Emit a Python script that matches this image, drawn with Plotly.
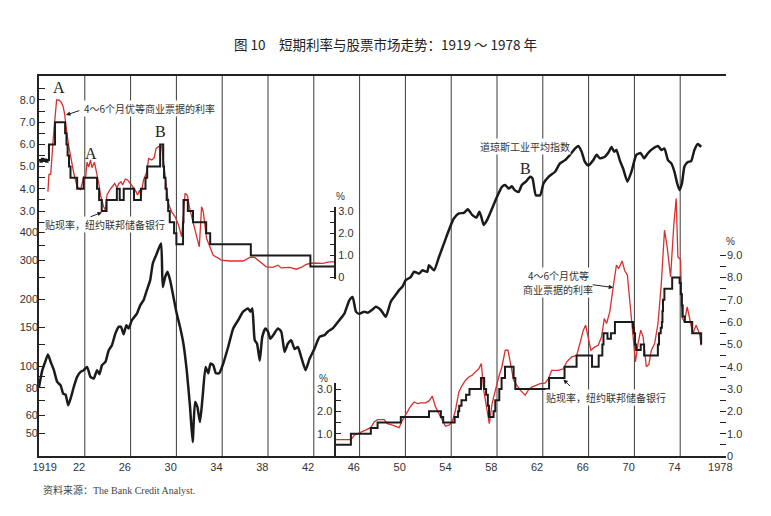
import plotly.graph_objects as go

# ---------------- data ----------------
year_label_pos = [1919.5, 1922.5, 1926.5, 1930.5, 1934.5, 1938.5, 1942.5, 1946.5,
                  1950.5, 1954.5, 1958.5, 1962.5, 1966.5, 1970.5, 1974.5, 1978.5]
year_labels = ['1919', '22', '26', '30', '34', '38', '42', '46',
               '50', '54', '58', '62', '66', '70', '74', '1978']
grid_years = [1923, 1927, 1931, 1935, 1939, 1943, 1947, 1951, 1955, 1959, 1963, 1967, 1971, 1975]

# Dow Jones Industrial Average (log scale)
djia_years = [1919.00, 1919.29, 1919.58, 1919.78, 1920.02, 1920.30, 1920.59, 1920.89, 1921.11, 1921.32,
              1921.55, 1921.76, 1922.04, 1922.33, 1922.63, 1922.91, 1923.20, 1923.50, 1923.78, 1924.07,
              1924.28, 1924.50, 1924.80, 1925.09, 1925.37, 1925.67, 1925.96, 1926.16, 1926.39, 1926.63,
              1926.83, 1927.11, 1927.55, 1927.84, 1928.13, 1928.42, 1928.71, 1928.94, 1929.23, 1929.52,
              1929.67, 1929.81, 1930.02, 1930.22, 1930.45, 1930.74, 1931.03, 1931.32, 1931.61, 1931.90,
              1932.19, 1932.42, 1932.63, 1932.83, 1933.06, 1933.29, 1933.55, 1933.78, 1933.98, 1934.22,
              1934.45, 1934.74, 1935.09, 1935.52, 1935.96, 1936.39, 1936.83, 1937.26, 1937.46, 1937.63,
              1937.84, 1938.04, 1938.28, 1938.50, 1938.77, 1939.00, 1939.20, 1939.50, 1939.87, 1940.16,
              1940.45, 1940.74, 1941.03, 1941.32, 1941.61, 1941.90, 1942.28, 1942.63, 1943.06, 1943.50,
              1943.93, 1944.22, 1944.65, 1945.23, 1945.67, 1946.10, 1946.39, 1946.68, 1946.97, 1947.41,
              1947.70, 1948.07, 1948.42, 1948.85, 1949.29, 1949.72, 1950.02, 1950.45, 1950.74, 1951.03,
              1951.46, 1951.76, 1952.19, 1952.48, 1952.91, 1953.06, 1953.50, 1953.93, 1954.37, 1954.80,
              1955.23, 1955.67, 1956.10, 1956.45, 1956.83, 1957.20, 1957.46, 1957.63, 1957.84, 1958.13,
              1958.57, 1959.00, 1959.43, 1959.72, 1960.02, 1960.30, 1960.54, 1960.89, 1961.17, 1961.52,
              1961.90, 1962.10, 1962.39, 1962.77, 1963.06, 1963.50, 1964.07, 1964.50, 1964.94, 1965.37,
              1965.81, 1966.10, 1966.39, 1966.68, 1966.97, 1967.41, 1967.70, 1967.98, 1968.42, 1968.77,
              1969.00, 1969.23, 1969.43, 1969.72, 1970.02, 1970.39, 1970.74, 1971.17, 1971.55, 1971.84,
              1972.19, 1972.63, 1973.06, 1973.35, 1973.63, 1973.93, 1974.22, 1974.50, 1974.74, 1974.94,
              1975.15, 1975.37, 1975.67, 1975.96, 1976.24, 1976.54, 1976.83]
djia_values = [80.7, 96, 106, 113, 104.5, 96, 85, 82, 75.3, 74.5,
               66.7, 71.5, 80.7, 89.5, 94.3, 96, 99.3, 89.5, 88, 96,
               92, 101, 104.5, 118, 124.3, 140.3, 150.4, 150.4, 139.4, 153,
               148, 161, 172.5, 188, 198, 220, 244, 290, 316, 345,
               357, 227, 252, 266, 244, 205, 172.5, 150, 126.5, 96,
               65.6, 45.6, 69, 65.6, 56.1, 72.8, 99.3, 93, 102.8, 101,
               93, 93, 102.8, 122, 148, 161, 176, 182, 176, 182,
               131, 126.5, 106, 135.5, 148, 143, 133, 139, 148, 143,
               116, 126.5, 131, 119.5, 122, 110, 96, 108, 120, 135.5,
               138, 143, 148, 161, 172.5, 198, 205, 176, 172, 176,
               174, 179, 185, 179, 167, 195, 205, 220, 228, 244,
               252, 266, 261, 270, 266, 285, 270, 310, 357, 410,
               462, 487, 490, 508, 480, 467, 496, 470, 432, 454,
               512, 579, 642, 654, 630, 645, 620, 608, 654, 677,
               712, 700, 588, 588, 664, 712, 750, 818, 846, 894,
               954, 980, 923, 830, 800, 846, 894, 862, 877, 923,
               970, 923, 940, 846, 774, 677, 750, 894, 910, 862,
               910, 954, 980, 940, 954, 846, 818, 750, 664, 620,
               664, 792, 830, 838, 940, 1000, 970]

# 4-6 month prime commercial paper rate, 1919-1944 (%)
cp1_years = [1919.78, 1919.87, 1920.02, 1920.16, 1920.30, 1920.54, 1920.74, 1920.94, 1921.11, 1921.23,
             1921.32, 1921.46, 1921.61, 1921.81, 1922.04, 1922.33, 1922.63, 1922.91, 1923.06, 1923.20,
             1923.35, 1923.50, 1923.63, 1923.84, 1924.02, 1924.22, 1924.37, 1924.65, 1924.80, 1924.94,
             1925.17, 1925.37, 1925.61, 1925.81, 1925.98, 1926.16, 1926.30, 1926.54, 1926.74, 1926.97,
             1927.20, 1927.41, 1927.61, 1927.78, 1927.90, 1928.13, 1928.42, 1928.57, 1928.85, 1929.06,
             1929.23, 1929.43, 1929.72, 1929.93, 1930.10, 1930.30, 1930.59, 1930.89, 1931.17, 1931.46,
             1931.76, 1931.96, 1932.19, 1932.63, 1933.00, 1933.20, 1933.35, 1933.63, 1933.93, 1934.22,
             1934.94, 1935.67, 1936.83, 1937.41, 1937.84, 1938.28, 1938.85, 1939.43, 1939.87, 1940.16,
             1940.89, 1941.46, 1941.90, 1942.33, 1942.91, 1943.78, 1944.37, 1944.94]
cp1_values = [3.87, 4.65, 4.65, 5.9, 6.64, 8.0, 8.0, 7.9, 7.7, 7.4,
              6.95, 6.4, 5.9, 5.3, 4.7, 4.1, 3.97, 4.54, 4.47, 5.2,
              4.98, 5.3, 4.95, 5.2, 4.77, 4.24, 3.72, 3.19, 3.04, 3.72,
              3.94, 4.1, 4.24, 4.05, 4.24, 4.32, 4.17, 4.44, 4.4, 4.24,
              4.1, 3.94, 3.72, 3.94, 3.72, 4.4, 4.77, 5.37, 5.3, 5.4,
              5.82, 5.9, 5.9, 5.0, 4.1, 3.34, 2.96, 2.74, 2.4, 1.84,
              3.8, 3.7, 3.04, 2.14, 1.39, 3.19, 2.96, 1.77, 1.39, 1.01,
              0.79, 0.75, 0.75, 0.91, 0.91, 0.73, 0.49, 0.46, 0.56, 0.44,
              0.46, 0.38, 0.46, 0.6, 0.66, 0.64, 0.71, 0.71]

# Discount rate, Federal Reserve Bank of New York, 1919-1944 (%)
dr1_years = [1919.00, 1919.12, 1919.25, 1919.38, 1919.50, 1919.62, 1919.75, 1919.87, 1920.40, 1921.28,
             1921.40, 1921.50, 1921.62, 1921.75, 1922.33, 1922.90, 1924.07, 1924.25, 1924.48, 1924.90,
             1925.80, 1926.05, 1926.40, 1927.30, 1927.90, 1928.30, 1928.45, 1929.58, 1929.85, 1929.92,
             1930.05, 1930.15, 1930.28, 1930.42, 1930.80, 1931.00, 1931.58, 1931.62, 1932.00, 1932.45,
             1933.60, 1933.95, 1937.50, 1942.70, 1944.94]
dr1_values = [5.30, 5.22, 5.35, 5.25, 5.32, 5.22, 5.30, 6.0, 7.0, 6.5,
              6.0, 5.5, 5.0, 4.5, 4.0, 4.5, 4.0, 3.5, 3.0, 3.5,
              4.0, 3.5, 4.0, 3.5, 4.0, 4.5, 5.0, 6.0, 5.0, 4.5,
              4.0, 3.5, 3.0, 2.5, 2.0, 1.5, 2.5, 3.5, 3.0, 2.5,
              2.0, 1.5, 1.0, 0.5, 0.5]

# 4-6 month prime commercial paper rate, 1944-1977 (%)
cp2_years = [1944.94, 1946.24, 1946.54, 1946.97, 1947.55, 1947.98, 1948.28, 1948.57, 1949.15, 1949.43,
             1949.87, 1950.45, 1950.74, 1951.09, 1951.46, 1951.76, 1952.04, 1952.33, 1952.77, 1953.06,
             1953.35, 1953.63, 1953.93, 1954.22, 1954.50, 1954.80, 1955.09, 1955.37, 1955.67, 1955.96,
             1956.24, 1956.54, 1956.83, 1957.11, 1957.41, 1957.63, 1957.84, 1958.13, 1958.33, 1958.57,
             1958.85, 1959.15, 1959.43, 1959.72, 1959.96, 1960.16, 1960.45, 1960.74, 1961.03, 1961.46,
             1961.76, 1962.04, 1962.48, 1962.77, 1963.20, 1963.50, 1963.78, 1964.37, 1964.80, 1965.09,
             1965.52, 1965.96, 1966.24, 1966.54, 1966.74, 1966.97, 1967.20, 1967.55, 1967.84, 1968.13,
             1968.37, 1968.57, 1968.85, 1969.15, 1969.43, 1969.63, 1969.93, 1970.16, 1970.39, 1970.59,
             1970.89, 1971.09, 1971.32, 1971.55, 1971.76, 1972.04, 1972.26, 1972.48, 1972.77, 1973.06,
             1973.35, 1973.63, 1973.86, 1974.16, 1974.45, 1974.65, 1974.80, 1975.03, 1975.15, 1975.37,
             1975.61, 1975.90, 1976.10, 1976.39, 1976.68, 1976.83]
cp2_values = [0.73, 0.73, 0.93, 1.03, 1.15, 1.27, 1.53, 1.63, 1.63, 1.45,
              1.38, 1.27, 1.6, 1.93, 2.23, 2.42, 2.35, 2.38, 2.38, 2.47,
              2.68, 2.2, 1.9, 1.6, 1.33, 1.38, 1.53, 2.05, 2.87, 3.17,
              3.39, 3.54, 3.62, 3.77, 3.91, 4.14, 2.95, 2.05, 1.45, 2.35,
              2.95, 3.54, 4.0, 4.74, 4.74, 4.14, 3.39, 3.17, 2.95, 2.72,
              2.97, 3.09, 3.17, 3.24, 3.27, 3.47, 3.84, 3.84, 3.91, 4.22,
              4.44, 4.51, 5.04, 5.64, 5.86, 5.34, 4.74, 4.89, 4.96, 5.34,
              6.16, 5.94, 6.46, 7.58, 8.55, 8.4, 8.74, 8.3, 8.1, 6.98,
              5.49, 4.22, 5.04, 5.64, 5.34, 4.0, 4.1, 4.74, 5.04, 5.94,
              7.73, 10.12, 9.37, 8.03, 10.42, 11.54, 8.92, 8.8, 6.23, 6.0,
              6.68, 5.94, 5.49, 5.86, 5.49, 4.96]

# Discount rate, Federal Reserve Bank of New York, 1944-1977 (%)
dr2_years = [1944.94, 1946.24, 1947.98, 1948.57, 1950.60, 1953.06, 1954.10, 1954.30, 1955.30, 1955.60,
             1955.70, 1955.90, 1956.30, 1956.60, 1957.60, 1957.88, 1958.05, 1958.20, 1958.30, 1958.70,
             1958.85, 1959.20, 1959.40, 1959.70, 1960.45, 1960.60, 1963.55, 1964.90, 1965.95, 1967.30,
             1967.88, 1968.20, 1968.30, 1968.65, 1968.95, 1969.30, 1970.88, 1970.95, 1971.05, 1971.15,
             1971.55, 1971.85, 1973.05, 1973.15, 1973.30, 1973.40, 1973.45, 1973.50, 1973.62, 1974.30,
             1974.95, 1975.05, 1975.15, 1975.22, 1975.40, 1976.05, 1976.83]
dr2_values = [0.5, 1.0, 1.25, 1.5, 1.75, 2.0, 1.75, 1.5, 1.75, 2.0,
              2.25, 2.5, 2.75, 3.0, 3.5, 3.0, 2.75, 2.25, 1.75, 2.0,
              2.5, 3.0, 3.5, 4.0, 3.5, 3.0, 3.5, 4.0, 4.5, 4.0,
              4.5, 5.0, 5.5, 5.25, 5.5, 6.0, 5.75, 5.5, 5.0, 4.75,
              5.0, 4.5, 5.0, 5.5, 5.75, 6.0, 6.5, 7.0, 7.5, 8.0,
              7.75, 7.25, 6.75, 6.25, 6.0, 5.5, 5.0]

# axis tick definitions
left_rate_ticks = [2.5, 3.0, 3.5, 4.0, 4.5, 5.0, 5.5, 6.0, 6.5, 7.0, 7.5, 8.0, 8.5]
left_djia_ticks = [50, 60, 70, 80, 90, 100, 125, 150, 200, 250, 300, 350, 400]
left_djia_labels = [50, 60, 80, 100, 150, 200, 300, 400]
right_djia_ticks = [400, 450, 500, 550, 600, 650, 700, 750, 800, 900, 1000, 1100, 1200, 1300, 1400, 1500]
right_djia_labels = [400, 500, 600, 800, 1000, 1200, 1500]
right_rate_ticks = [0, 0.5, 1, 1.5, 2, 2.5, 3, 3.5, 4, 4.5, 5, 5.5, 6, 6.5, 7, 7.5, 8, 8.5, 9]
mini_top_ticks = [0, 0.5, 1.0, 1.5, 2.0, 2.5, 3.0]
mini_bottom_ticks = [0.5, 1.0, 1.5, 2.0, 2.5, 3.0]

# ---------------- styling ----------------
# page body has an 8px margin, so the figure is sized to fit inside the window
W, H = 755, 500
ML, MT = 27, 68
PLOT_W, PLOT_H = 691, 379.7
MR = W - ML - PLOT_W
MB = H - MT - PLOT_H
RED = '#d8302e'
BLK = '#1b1b1b'
AX = '#222222'
TICKC = '#333333'
NUMFONT = dict(family='Liberation Sans, Arial, sans-serif', size=11, color=TICKC)
CJK = 'Noto Sans CJK SC'


def fmt(v):
    return '0' if v == 0 else f'{v:.1f}'


def labels(ticks, shown, f=str):
    return [f(t) if t in shown else '' for t in ticks]


fig = go.Figure()

fig.add_trace(go.Scatter(x=djia_years, y=djia_values, yaxis='y2', mode='lines',
                         line=dict(color=BLK, width=2.5, shape='spline', smoothing=0.5),
                         hoverinfo='skip', showlegend=False))
fig.add_trace(go.Scatter(x=cp1_years, y=cp1_values, yaxis='y', mode='lines',
                         line=dict(color=RED, width=1.3), hoverinfo='skip', showlegend=False))
fig.add_trace(go.Scatter(x=dr1_years, y=dr1_values, yaxis='y', mode='lines',
                         line=dict(color=BLK, width=2, shape='hv'), hoverinfo='skip', showlegend=False))
fig.add_trace(go.Scatter(x=cp2_years, y=cp2_values, yaxis='y4', mode='lines',
                         line=dict(color=RED, width=1.3), hoverinfo='skip', showlegend=False))
fig.add_trace(go.Scatter(x=dr2_years, y=dr2_values, yaxis='y4', mode='lines',
                         line=dict(color=BLK, width=2, shape='hv'), hoverinfo='skip', showlegend=False))
# empty traces so that the two small inner % scales are drawn
fig.add_trace(go.Scatter(x=[], y=[], yaxis='y5', mode='lines', hoverinfo='skip', showlegend=False))
fig.add_trace(go.Scatter(x=[], y=[], yaxis='y6', mode='lines', hoverinfo='skip', showlegend=False))

# vertical guide lines
for gy in grid_years:
    fig.add_shape(type='line', xref='x', yref='paper', x0=gy, x1=gy, y0=0, y1=1,
                  line=dict(color='#3a3a3a', width=1), layer='below')

top_rate_range = [-8.03, 9.08]
djia_log_range = [1.596, 3.306]
bot_rate_range = [0, 17.03]
mini_x = 0.4313

fig.update_layout(
    width=W, height=H,
    margin=dict(l=ML, r=MR, t=MT, b=MB, pad=0),
    paper_bgcolor='white', plot_bgcolor='rgba(0,0,0,0)',
    showlegend=False,
    title=dict(text='图 10　短期利率与股票市场走势：1919 ～ 1978 年',
               x=(385.5 - 8) / W, xanchor='center', y=1 - 37 / H, yanchor='middle',
               font=dict(family=CJK, size=13.5, color='#222')),
    xaxis=dict(domain=[0, 1], range=[1919, 1979], tickmode='array',
               tickvals=year_label_pos, ticktext=year_labels, ticks='',
               showline=True, linecolor=AX, linewidth=1.5, mirror=True,
               showgrid=False, zeroline=False, tickfont=NUMFONT, anchor='y'),
    xaxis2=dict(overlaying='x', range=[1919, 1979], tickmode='linear', tick0=1919, dtick=1,
                ticks='inside', ticklen=6, tickcolor=AX, tickwidth=1.2,
                showticklabels=False, showline=False, showgrid=False, zeroline=False,
                side='bottom', anchor='y'),
    yaxis=dict(domain=[0, 1], range=top_rate_range, tickmode='array',
               tickvals=left_rate_ticks,
               ticktext=[fmt(t) if float(t).is_integer() else '' for t in left_rate_ticks],
               ticks='inside', ticklen=6, tickcolor=AX, tickwidth=1.2,
               showline=True, linecolor=AX, linewidth=1.5,
               showgrid=False, zeroline=False, tickfont=NUMFONT, side='left'),
    yaxis2=dict(overlaying='y', type='log', range=djia_log_range, tickmode='array',
                tickvals=left_djia_ticks, ticktext=labels(left_djia_ticks, left_djia_labels),
                ticks='inside', ticklen=6, tickcolor=AX, tickwidth=1.2,
                showline=False, showgrid=False, zeroline=False, tickfont=NUMFONT, side='left'),
    yaxis3=dict(overlaying='y', type='log', range=djia_log_range, tickmode='array',
                tickvals=right_djia_ticks, ticktext=labels(right_djia_ticks, right_djia_labels),
                ticks='inside', ticklen=6, tickcolor=AX, tickwidth=1.2,
                showline=True, linecolor=AX, linewidth=1.5,
                showgrid=False, zeroline=False, tickfont=NUMFONT, side='right'),
    yaxis4=dict(overlaying='y', range=bot_rate_range, tickmode='array',
                tickvals=right_rate_ticks,
                ticktext=[fmt(t) if float(t).is_integer() else '' for t in right_rate_ticks],
                ticks='inside', ticklen=6, tickcolor=AX, tickwidth=1.2,
                showline=False, showgrid=False, zeroline=False, tickfont=NUMFONT, side='right'),
    yaxis5=dict(anchor='free', position=mini_x, domain=[0.4654, 0.6558], range=[-0.068, 3.19],
                tickmode='array', tickvals=mini_top_ticks,
                ticktext=[fmt(t) if float(t).is_integer() else '' for t in mini_top_ticks],
                ticks='inside', ticklen=5, tickcolor=AX, tickwidth=1.2,
                showline=True, linecolor=AX, linewidth=1.5,
                showgrid=False, zeroline=False, tickfont=NUMFONT, side='right'),
    yaxis6=dict(anchor='free', position=mini_x, domain=[0, 0.1915], range=[0, 3.26],
                tickmode='array', tickvals=mini_bottom_ticks,
                ticktext=[fmt(t) if float(t).is_integer() else '' for t in mini_bottom_ticks],
                ticks='inside', ticklen=5, tickcolor=AX, tickwidth=1.2,
                showline=True, linecolor=AX, linewidth=1.5,
                showgrid=False, zeroline=False, tickfont=NUMFONT, side='left'),
)

ann = []
serif = dict(family='Liberation Serif, serif', size=16, color='#222')
cjk = dict(family=CJK, size=10, color='#333')
pct = dict(family='Liberation Sans, sans-serif', size=10, color='#333')

# letters
ann += [dict(x=1920.74, y=8.58, xref='x', yref='y', text='A', font=serif, showarrow=False),
        dict(x=1923.58, y=5.6, xref='x', yref='y', text='A', font=serif, showarrow=False),
        dict(x=1929.63, y=6.57, xref='x', yref='y', text='B', font=serif, showarrow=False),
        dict(x=1961.47, y=12.9, xref='x', yref='y4', text='B', font=serif, showarrow=False)]
# labels
ann += [dict(x=1928.65, y=7.62, xref='x', yref='y', text='4～6个月优等商业票据的利率',
             font=cjk, showarrow=False, bgcolor='white', borderpad=0),
        dict(x=1924.8, y=2.4, xref='x', yref='y', text='贴现率，纽约联邦储备银行',
             font=cjk, showarrow=False, bgcolor='white', borderpad=0),
        dict(x=1961.47, y=13.86, xref='x', yref='y4', text='道琼斯工业平均指数',
             font=cjk, showarrow=False, bgcolor='white', borderpad=0),
        dict(x=1964.36, y=8.1, xref='x', yref='y4', text='4～6个月优等',
             font=cjk, showarrow=False, bgcolor='white', borderpad=0),
        dict(x=1964.36, y=7.47, xref='x', yref='y4', text='商业票据的利率',
             font=cjk, showarrow=False, bgcolor='white', borderpad=0),
        dict(x=1968.49, y=2.62, xref='x', yref='y4', text='贴现率，纽约联邦储备银行',
             font=cjk, showarrow=False, bgcolor='white', borderpad=0)]
# arrows
arrow = dict(text='', showarrow=True, arrowhead=2, arrowsize=0.9, arrowwidth=1,
             arrowcolor='#222', standoff=0)
ann += [dict(x=1921.35, y=7.32, xref='x', yref='y', ax=15, ay=-5, **arrow),
        dict(x=1924.5, y=2.94, xref='x', yref='y', ax=-13, ay=5, **arrow),
        dict(x=1969.15, y=7.55, xref='x', yref='y4', ax=-22, ay=-3, **arrow),
        dict(x=1964.8, y=3.43, xref='x', yref='y4', ax=8, ay=8, **arrow)]
# percent signs
ann += [dict(x=1945.29, y=3.64, xref='x', yref='y', text='%', font=pct, showarrow=False),
        dict(x=1943.84, y=3.47, xref='x', yref='y4', text='%', font=pct, showarrow=False),
        dict(x=1.0155, y=9.62, xref='paper', yref='y4', text='%', font=pct, showarrow=False)]
# source note
ann += [dict(x=0.003, y=-34.3 / PLOT_H, xref='paper', yref='paper',
             text='资料来源：The Bank Credit Analyst.', xanchor='left', yanchor='middle',
             font=dict(family='Liberation Serif, ' + CJK, size=10, color='#444'),
             showarrow=False)]

fig.update_layout(annotations=ann)

fig.write_html('out.html')
